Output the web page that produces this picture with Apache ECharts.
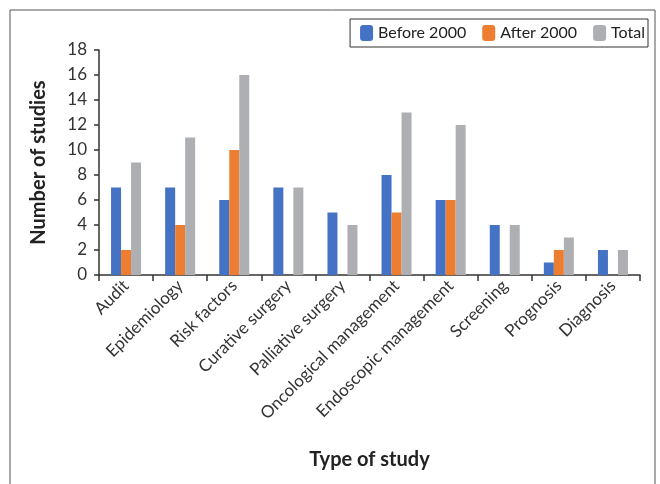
<!DOCTYPE html>
<html>
<head>
<meta charset="utf-8">
<script src="https://cdn.jsdelivr.net/npm/echarts@6/dist/echarts.min.js"></script>
<style>
  html, body { margin: 0; padding: 0; background: #fff; }
  #chart1 { width: 660px; height: 484px; }
</style>
</head>
<body>
<div id="chart1"></div>
<script>
var categories = ["Audit", "Epidemiology", "Risk factors", "Curative surgery", "Palliative surgery",
  "Oncological management", "Endoscopic management", "Screening", "Prognosis", "Diagnosis"];
var before2000 = [7, 7, 6, 7, 5, 8, 6, 4, 1, 2];
var after2000 = [2, 4, 10, 0, 0, 5, 6, 0, 2, 0];
var total = [9, 11, 16, 7, 4, 13, 12, 4, 3, 2];
var yTicks = [0, 2, 4, 6, 8, 10, 12, 14, 16, 18];

var font = "Lato";
var chart1 = echarts.init(document.getElementById("chart1"));
var option = {
  animation: false,
  textStyle: { fontFamily: font },
  graphic: [{
    type: "rect",
    shape: { x: 10, y: 10, width: 645, height: 500 },
    style: { fill: "none", stroke: "#555", lineWidth: 1 },
    silent: true
  }],
  legend: {
    right: 12,
    top: 19,
    itemWidth: 13,
    itemHeight: 16,
    itemGap: 16,
    padding: [6, 3, 6, 10],
    borderColor: "#333",
    borderWidth: 1,
    textStyle: { fontSize: 16, color: "#222", fontFamily: font },
    data: ["Before 2000", "After 2000", "Total"]
  },
  grid: {
    left: 99,
    right: 20,
    top: 50,
    bottom: 209
  },
  xAxis: {
    type: "category",
    data: categories,
    name: "Type of study",
    nameLocation: "middle",
    nameGap: 175,
    nameTextStyle: { fontSize: 20, fontWeight: "bold", color: "#222", fontFamily: font },
    axisLine: { lineStyle: { color: "#333", width: 1.5 } },
    axisTick: { show: true, length: 6, lineStyle: { color: "#333", width: 1.5 } },
    axisLabel: { rotate: 45, fontSize: 17, color: "#333", margin: 8, interval: 0 }
  },
  yAxis: {
    type: "value",
    min: 0,
    max: 18,
    interval: 2,
    name: "Number of studies",
    nameLocation: "middle",
    nameGap: 50,
    nameTextStyle: { fontSize: 20, fontWeight: "bold", color: "#222", fontFamily: font },
    splitLine: { show: false },
    axisLine: { show: true, lineStyle: { color: "#333", width: 1.5 } },
    axisTick: { show: true, length: 5, lineStyle: { color: "#333", width: 1.5 } },
    axisLabel: {
      fontSize: 17, color: "#333", margin: 12,
      formatter: function (v) { return yTicks.indexOf(v) >= 0 ? String(v) : ""; }
    }
  },
  series: [
    { name: "Before 2000", type: "bar", data: before2000, barWidth: 10, barGap: "0%", itemStyle: { color: "#4472C4" } },
    { name: "After 2000", type: "bar", data: after2000, barWidth: 10, barGap: "0%", itemStyle: { color: "#ED7D31" } },
    { name: "Total", type: "bar", data: total, barWidth: 10, barGap: "0%", itemStyle: { color: "#AEAFB3" } }
  ]
};
chart1.setOption(option);
window.addEventListener("resize", function () {
  chart1.resize();
});
</script>
</body>
</html>
